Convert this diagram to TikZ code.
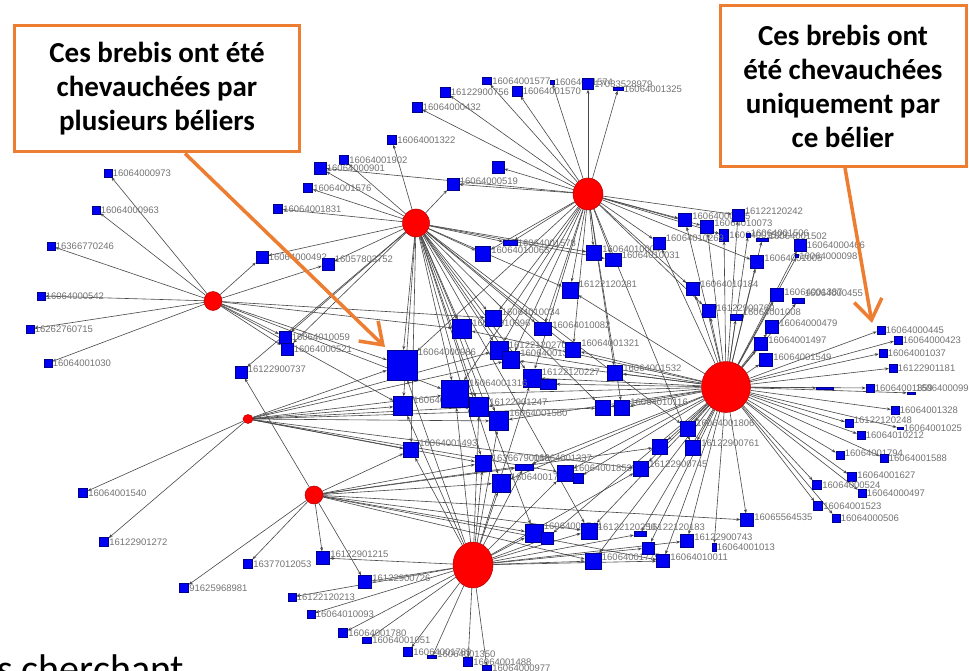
\documentclass[tikz,border=0pt]{standalone}
\usepackage{fontspec}
\usepackage{tikz}
\usetikzlibrary{arrows.meta, positioning, calc, shapes.geometric}

\newfontfamily\calloutfamily{Carlito}
\newfontfamily\tagfamily{Liberation Sans}
\definecolor{callorange}{RGB}{237,125,49}
\definecolor{ewefill}{RGB}{0,0,245}

\pgfdeclarelayer{edges}
\pgfsetlayers{edges,main}

\tikzset{
  ram/.style 2 args={ellipse, fill=red, draw=red!70!black, line width=0.5pt, inner sep=0pt, minimum width=#1, minimum height=#2},
  ewe/.style={rectangle, fill=ewefill, draw=blue!55!black, line width=0.4pt, inner sep=0pt, minimum size=#1},
  tag/.style={font=\tagfamily\fontsize{9.5}{10}\selectfont, text=black!55, inner sep=0.5pt},
  link/.style={draw=black!72, line width=0.6pt, -{Stealth[length=4pt,width=3pt]}},
  callout/.style={draw=callorange, line width=3pt, fill=white, align=center, inner sep=0pt,
    font=\calloutfamily\bfseries\fontsize{29}{34}\selectfont},
  pointer/.style={draw=callorange, line width=3.5pt, -{Straight Barb[length=20pt,width=28pt]}}
}

\begin{document}
\begin{tikzpicture}[x=1pt, y=-1pt]
  \useasboundingbox (0,0) rectangle (969,671);

  % rams
  \node[ram={27pt}{28pt}] (bel1) at (416,223) {};
  \node[ram={30pt}{32pt}] (bel2) at (588,194) {};
  \node[ram={49pt}{51pt}] (bel3) at (726,387) {};
  \node[ram={18pt}{19pt}] (bel4) at (213,301) {};
  \node[ram={10pt}{9pt}]  (bel5) at (248,419) {};
  \node[ram={18pt}{18pt}] (bel6) at (314,495) {};
  \node[ram={40pt}{46pt}] (bel7) at (473,565) {};

  % ewes, top
  \node[ewe=9pt, minimum height=7pt, label={[tag]right:16064001577}] (b1577) at (487,81) {};
  \node[ewe=4pt, label={[tag]right:16064001574}] (b1574) at (552,82) {};
  \node[ewe=11pt, label={[tag]right:17033528979}] (b8979) at (588,84) {};
  \node[ewe=10pt, minimum height=3pt, label={[tag]right:16064001325}] (b1325) at (618,89) {};
  \node[ewe=10pt, label={[tag]right:16122900756}] (b0756) at (445,92) {};
  \node[ewe=10pt, label={[tag]right:16064001570}] (b1570) at (517,91) {};
  \node[ewe=10pt, label={[tag]right:16064000432}] (b0432) at (417,107) {};
  \node[ewe=9pt, label={[tag]right:16064001322}] (b1322) at (392,140) {};
  \node[ewe=9pt, label={[tag]right:16064001902}] (b1902) at (344,160) {};
  \node[ewe=12pt, label={[tag]right:16064000901}] (b0901) at (320,168) {};
  \node[ewe=9pt, label={[tag]right:16064001576}] (b1576) at (308,188) {};
  \node[ewe=9pt, label={[tag]right:16064001831}] (b1831) at (278,209) {};
  \node[ewe=12pt, label={[tag, yshift=3pt]right:16064000519}] (b0519) at (453,184) {};
  \node[ewe=12pt] (bU1) at (498,167) {};

  % ewes, left
  \node[ewe=8pt, label={[tag]right:16064000973}] (b0973) at (108,173) {};
  \node[ewe=8pt, label={[tag]right:16064000963}] (b0963) at (96,210) {};
  \node[ewe=8pt, label={[tag]right:16366770246}] (b0246) at (51,246) {};
  \node[ewe=8pt, label={[tag]right:16064000542}] (b0542) at (41,296) {};
  \node[ewe=8pt, label={[tag]right:16262760715}] (b0715) at (30,329) {};
  \node[ewe=8pt, label={[tag]right:16064001030}] (b1030) at (48,363) {};
  \node[ewe=12pt, label={[tag]right:16064000492}] (b0492) at (262,257) {};
  \node[ewe=12pt, label={[tag, yshift=5pt]right:16057803752}] (b3752) at (328,264) {};
  \node[ewe=12pt, label={[tag]right:16064010059}] (b0059) at (285,337) {};
  \node[ewe=12pt, label={[tag]right:16064000521}] (b0521) at (287,349) {};
  \node[ewe=12pt, label={[tag, yshift=3pt]right:16122900737}] (b0737) at (241,372) {};
  \node[ewe=9pt, label={[tag]right:16064001540}] (b1540) at (83,493) {};
  \node[ewe=9pt, label={[tag]right:16122901272}] (b1272) at (104,542) {};
  \node[ewe=9pt, label={[tag]right:91625968981}] (b8981) at (184,588) {};
  \node[ewe=9pt, label={[tag]right:16377012053}] (b2053) at (248,564) {};

  % ewes, bottom
  \node[ewe=13pt, label={[tag, yshift=4pt]right:16122901215}] (b1215) at (323,558) {};
  \node[ewe=13pt, label={[tag, yshift=4pt]right:16122900726}] (b0726) at (365,582) {};
  \node[ewe=8pt, label={[tag]right:16122120213}] (b0213) at (292,597) {};
  \node[ewe=8pt, label={[tag]right:16064010093}] (b0093) at (311,614) {};
  \node[ewe=9pt, label={[tag]right:16064001780}] (b1780) at (343,633) {};
  \node[ewe=9pt, minimum height=6pt, label={[tag]right:16064001051}] (b1051) at (367,640) {};
  \node[ewe=9pt, label={[tag]right:16064001789}] (b1789) at (408,652) {};
  \node[ewe=9pt, minimum height=3pt, label={[tag, yshift=3pt]right:16064001350}] (b1350) at (432,657) {};
  \node[ewe=9pt, label={[tag]right:16064001488}] (b1488) at (468,662) {};
  \node[ewe=9pt, minimum height=5pt, label={[tag]right:16064000977}] (b0977) at (487,668) {};

  % ewes, middle
  \node[ewe=15pt, label={[tag, yshift=4pt]right:16064010065}] (b0065) at (483,254) {};
  \node[ewe=14pt, minimum height=5pt, label={[tag]right:16064001578}] (b1578) at (510,243) {};
  \node[ewe=15pt, label={[tag, yshift=4pt]right:16064010004}] (b0004) at (594,253) {};
  \node[ewe=16pt, minimum height=13pt, label={[tag, yshift=5pt]right:16064010031}] (b0031) at (613,260) {};
  \node[ewe=16pt, label={[tag, yshift=6pt]right:16122120281}] (b0281) at (570,290) {};
  \node[ewe=19pt, label={[tag, yshift=6pt]right:16064010096}] (b0090) at (462,329) {};
  \node[ewe=16pt, label={[tag, yshift=6pt]right:16064010034}] (b0034) at (493,318) {};
  \node[ewe=17pt, minimum height=13pt, label={[tag, yshift=4pt]right:16064010082}] (b0082) at (543,329) {};
  \node[ewe=30pt, label={[tag, yshift=13pt]right:16064000986}] (b0986) at (402,365) {};
  \node[ewe=18pt, label={[tag, yshift=5pt]right:16122120270}] (b0270) at (499,350) {};
  \node[ewe=17pt, label={[tag, yshift=7pt]right:16064001356}] (b1356) at (511,360) {};
  \node[ewe=15pt, label={[tag, yshift=7pt]right:16064001321}] (b1321) at (573,350) {};
  \node[ewe=18pt, label={[tag, yshift=6pt]right:16122120227}] (b0227) at (532,378) {};
  \node[ewe=16pt, minimum height=10pt] (bU2) at (548,384) {};
  \node[ewe=15pt, label={[tag, yshift=5pt]right:16064001532}] (b1532) at (615,373) {};
  \node[ewe=19pt, label={[tag, yshift=6pt]right:16064001533}] (b1533) at (403,406) {};
  \node[ewe=27pt, label={[tag, yshift=11pt]right:16064001316}] (b1316) at (455,394) {};
  \node[ewe=19pt, label={[tag, yshift=5pt]right:16122901247}] (b1247) at (479,407) {};
  \node[ewe=19pt, label={[tag, yshift=8pt]right:16064001580}] (b1580) at (499,421) {};
  \node[ewe=15pt] (b0116a) at (603,408) {};
  \node[ewe=15pt, label={[tag, yshift=6pt]right:16064010116}] (b0116) at (622,408) {};
  \node[ewe=15pt, label={[tag, yshift=7pt]right:16064001493}] (b1493) at (411,450) {};
  \node[ewe=16pt, label={[tag, yshift=5pt]right:16366790018}] (b0018) at (483,463) {};
  \node[ewe=18pt, minimum height=6pt, label={[tag, yshift=9pt]right:16064001337}] (b1337) at (524,467) {};
  \node[ewe=18pt, label={[tag, yshift=6pt]right:16064001760}] (b1760) at (501,483) {};
  \node[ewe=16pt, label={[tag, yshift=5pt]right:16064001853}] (b1853) at (565,473) {};
  \node[ewe=10pt] (bU4) at (578,478) {};
  \node[ewe=15pt] (b0658) at (660,447) {};
  \node[ewe=15pt, label={[tag, yshift=5pt]right:16122900745}] (b0745) at (641,469) {};
  \node[ewe=15pt, label={[tag, yshift=6pt]right:16064001806}] (b1806) at (688,429) {};
  \node[ewe=15pt, label={[tag, yshift=5pt]right:16122900761}] (b0761) at (693,448) {};
  \node[ewe=18pt, label={[tag, yshift=7pt]right:16064001744}] (b0526) at (534,533) {};
  \node[ewe=12pt] (b0526s) at (547,538) {};
  \node[ewe=16pt, label={[tag, yshift=4pt]right:16122120250}] (b0250) at (589,531) {};
  \node[ewe=12pt, minimum height=5pt, label={[tag, yshift=7pt]right:16122120183}] (b0183) at (640,534) {};
  \node[ewe=16pt, label={[tag, yshift=4pt]right:16064001775}] (b1775) at (593,561) {};
  \node[ewe=12pt] (b0648) at (648,548) {};
  \node[ewe=13pt, label={[tag, yshift=3pt]right:16065564535}] (b4535) at (747,520) {};
  \node[ewe=13pt, label={[tag, yshift=4pt]right:16122900743}] (b0743) at (687,541) {};
  \node[ewe=4pt, minimum height=8pt, label={[tag]right:16064001013}] (b1013) at (714,547) {};
  \node[ewe=13pt, label={[tag, yshift=4pt]right:16064010011}] (b0011) at (663,561) {};

  % ewes, upper right
  \node[ewe=13pt, label={[tag, yshift=4pt]right:16064000415}] (b0415) at (685,220) {};
  \node[ewe=13pt, label={[tag, yshift=4pt]right:16064010073}] (b0073) at (707,227) {};
  \node[ewe=12pt, label={[tag, yshift=4pt]right:16122120242}] (b0242) at (738,215) {};
  \node[ewe=9pt, minimum height=12pt, label={[tag]right:16064001529}] (b1529) at (724,235) {};
  \node[ewe=4pt, label={[tag, yshift=2pt]right:16064001506}] (b1506) at (748,235) {};
  \node[ewe=12pt, minimum height=3pt, label={[tag, yshift=4pt]right:16064001502}] (b1502) at (762,240) {};
  \node[ewe=12pt, label={[tag, yshift=5pt]right:16064010269}] (b0269) at (659,243) {};
  \node[ewe=13pt, label={[tag, yshift=4pt]right:16064001005}] (b1005) at (757,262) {};
  \node[ewe=12pt, label={[tag]right:16064000466}] (b0466) at (800,245) {};
  \node[ewe=3pt, label={[tag]right:16064000098}] (b0098) at (797,256) {};
  \node[ewe=13pt, label={[tag, yshift=5pt]right:16064010184}] (b0184) at (693,289) {};
  \node[ewe=13pt, label={[tag, yshift=3pt]right:16064001387}] (b1387) at (777,295) {};
  \node[ewe=12pt, minimum height=5pt, label={[tag, yshift=8pt]right:16064000455}] (b0455) at (798,301) {};
  \node[ewe=13pt, label={[tag, yshift=3pt]right:16122900760}] (b0760) at (709,311) {};
  \node[ewe=12pt, minimum height=6pt, label={[tag, yshift=5pt]right:16064001008}] (b1008) at (736,317) {};
  \node[ewe=13pt, label={[tag, yshift=4pt]right:16064000479}] (b0479) at (772,327) {};
  \node[ewe=13pt, label={[tag, yshift=4pt]right:16064001497}] (b1497) at (761,344) {};
  \node[ewe=13pt, label={[tag, yshift=3pt]right:16064001549}] (b1549) at (766,360) {};

  % ewes, right
  \node[ewe=8pt, label={[tag]right:16064000445}] (b0445) at (881,330) {};
  \node[ewe=8pt, label={[tag]right:16064000423}] (b0423) at (898,340) {};
  \node[ewe=8pt, label={[tag]right:16064001037}] (b1037) at (883,353) {};
  \node[ewe=8pt, label={[tag]right:16122901181}] (b1181) at (893,368) {};
  \node[ewe=8pt, label={[tag]right:16064001359}] (b1359) at (870,388) {};
  \node[ewe=17pt, minimum height=2pt] (bU3) at (825,388) {};
  \node[ewe=8pt, minimum height=2pt, label={[tag, yshift=5pt]right:16064000998}] (b0998) at (911,393) {};
  \node[ewe=8pt, label={[tag]right:16064001328}] (b1328) at (895,410) {};
  \node[ewe=8pt, label={[tag, yshift=3pt]right:16122120248}] (b0248) at (849,423) {};
  \node[ewe=6pt, minimum height=2pt, label={[tag]right:16064001025}] (b1025) at (900,428) {};
  \node[ewe=8pt, label={[tag]right:16064010212}] (b0212) at (861,435) {};
  \node[ewe=8pt, label={[tag, yshift=2pt]right:16064001794}] (b1794) at (840,455) {};
  \node[ewe=8pt, label={[tag]right:16064001588}] (b1588) at (884,458) {};
  \node[ewe=9pt, label={[tag, yshift=2pt]right:16064001627}] (b1627) at (852,477) {};
  \node[ewe=9pt, label={[tag]right:16064000524}] (b0524) at (817,485) {};
  \node[ewe=8pt, label={[tag]right:16064000497}] (b0497) at (862,493) {};
  \node[ewe=9pt, label={[tag]right:16064001523}] (b1523) at (818,506) {};
  \node[ewe=8pt, label={[tag]right:16064000506}] (b0506) at (836,518) {};

  \begin{pgfonlayer}{edges}
    \fill[white] (0,0) rectangle (969,671);
    \foreach \b in {b1322,b1902,b0901,b1576,b1831,b0519,b0492,b3752,b0059,b0521,b0737,b0065,b1578,b0004,b0031,b0281,b0090,b0034,b0082,b0270,b1356,b0227,b0986,b1316,b1533,b1247,b1580,b0116a,b1493,b0018,b1760,b0250,b1806,b1321,b0526}
      \draw[link] (bel1) -- (\b);
    \foreach \b in {b1577,b1574,b8979,b1325,b0756,b1570,b0432,b0901,b0519,bU1,b0065,b1578,b0004,b0031,b0281,b0034,b0082,b0270,b1321,b1532,b0116,b0415,b0073,b0242,b1529,b0269,b1005,b0184,b0760,b0761,b1316,b0986,b1356,b0227}
      \draw[link] (bel2) -- (\b);
    \foreach \b in {b0281,b0090,b0270,b1356,b1321,b0227,bU2,b1532,b1316,b1247,b1580,b0116a,b0116,b1337,b1760,b1853,bU4,b0745,b0658,b1806,b0761,b4535,b0743,b1013,b0011,b0250,b0183,b0415,b0073,b0242,b1529,b1506,b1502,b0269,b1005,b0466,b0098,b0184,b1387,b0455,b0760,b1008,b0479,b1497,b1549,b0445,b0423,b1037,b1181,b1359,bU3,b0998,b1328,b0248,b1025,b0212,b1794,b1588,b1627,b0524,b0497,b1523,b0506,b1775,b0648,b0526s}
      \draw[link] (bel3) -- (\b);
    \foreach \b in {b0973,b0963,b0246,b0542,b0715,b1030,b0492,b3752,b0059,b0521,b0986,b0090,b1316,b1533,b0034}
      \draw[link] (bel4) -- (\b);
    \foreach \b in {b1540,b1272,b0986,b1533,b1316,b1356,b1247,b1493,b0018,b1580,b0116a,b1853,b0745,b0270}
      \draw[link] (bel5) -- (\b);
    \foreach \b in {b8981,b2053,b1215,b0726,b0737,b1493,b0018,b1760,b0250,b4535,b0526,b1337,b0658,b0011,b1775}
      \draw[link] (bel6) -- (\b);
    \foreach \b in {b1215,b0726,b0213,b0093,b1780,b1051,b1789,b1350,b1488,b0977,b1316,b1247,b1580,b1493,b0018,b1337,b1760,b1853,b0745,b0526,b0526s,b0250,b1775,b0183,b0648,b0011,b0743,b0227,b1533,b0986}
      \draw[link] (bel7) -- (\b);
  \end{pgfonlayer}

  % callouts
  \node[callout, minimum width=285pt, minimum height=126pt] (note1) at (157,89)
    {Ces brebis ont été\\chevauchées par\\plusieurs béliers};
  \node[callout, minimum width=246pt, minimum height=161pt] (note2) at (843,86)
    {Ces brebis ont\\été chevauchées\\uniquement par\\ce bélier};
  \coordinate (tip1) at (385,347);
  \coordinate (tip2) at (872,323);
  \draw[pointer] ($(note1.south)+(28,0)$) -- (tip1);
  \draw[pointer] ($(note2.south)+(2,0)$) -- (tip2);

  \node[anchor=base west, inner sep=0pt, font=\calloutfamily\fontsize{40}{40}\selectfont] (cut) at (-3,682) {s cherchant};
\end{tikzpicture}
\end{document}
